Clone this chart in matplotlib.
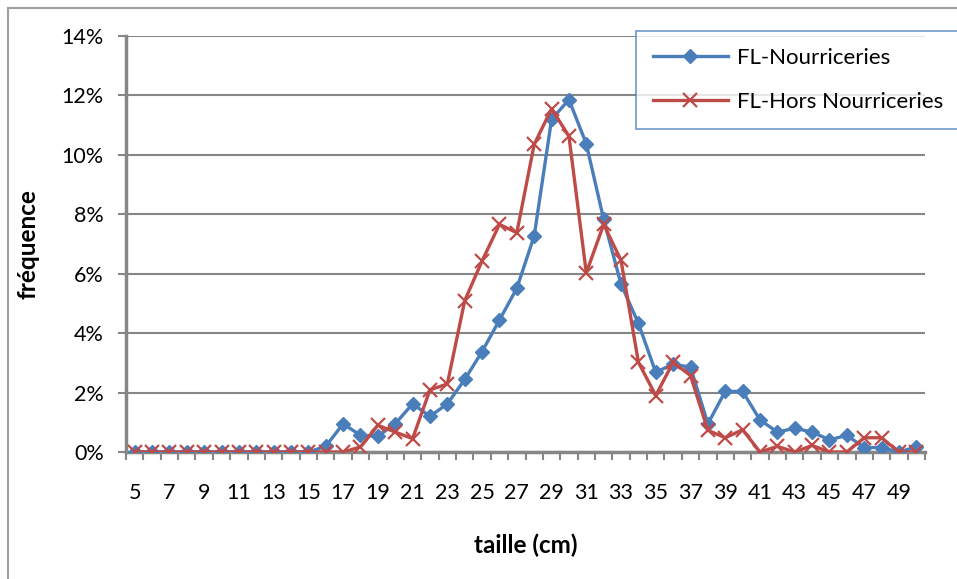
import numpy as np
import matplotlib
matplotlib.use("Agg")
import matplotlib.pyplot as plt
from matplotlib.lines import Line2D

plt.rcParams['font.family'] = ['Lato', 'DejaVu Sans']

# taille (cm)
taille = list(range(5, 51))
# fréquence en %
nourriceries = [0, 0, 0, 0, 0, 0, 0, 0, 0, 0, 0, 0.19, 0.95, 0.56, 0.53, 0.95, 1.62, 1.2, 1.62, 2.44,
                3.38, 4.44, 5.51, 7.27, 11.19, 11.86, 10.37, 7.83, 5.65, 4.33, 2.68, 2.96, 2.85, 0.95,
                2.04, 2.04, 1.08, 0.67, 0.8, 0.67, 0.41, 0.56, 0.15, 0.15, 0, 0.17]
hors_nourriceries = [0, 0, 0, 0, 0, 0, 0, 0, 0, 0, 0, 0, 0, 0.17, 0.9, 0.67, 0.45, 2.09, 2.29, 5.09,
                     6.43, 7.66, 7.38, 10.35, 11.55, 10.63, 6.03, 7.66, 6.45, 3.02, 1.9, 3.02, 2.57, 0.73,
                     0.48, 0.75, 0, 0.19, 0, 0.22, 0, 0, 0.48, 0.48, 0, 0]

blue = '#4A7EBB'
red = '#BE4B48'
grid_c = '#868686'

fig = plt.figure(figsize=(9.57, 5.79), dpi=100)
ax = fig.add_axes([126 / 957, 1 - 452 / 579, (925 - 126) / 957, (452 - 36) / 579])

ax.plot(taille, nourriceries, color=blue, lw=2.4, marker='D', ms=7.5, mec=blue, mfc=blue,
        label='FL-Nourriceries', zorder=3)
ax.plot(taille, hors_nourriceries, color=red, lw=2.4, marker='x', ms=10, mew=1.6,
        label='FL-Hors Nourriceries', zorder=4)

ax.set_xlim(4.5, 50.5)
ax.set_ylim(0, 14)
ax.set_yticks(np.arange(0, 15, 2))
ax.set_yticklabels(['%d%%' % v for v in range(0, 15, 2)], fontsize=15.5)
ax.yaxis.grid(True, color=grid_c, lw=1.5)
ax.set_axisbelow(True)

# étiquettes une sur deux, graduations entre catégories
ax.set_xticks(taille[::2])
ax.set_xticklabels([str(t) for t in taille[::2]], fontsize=15.5)
ax.set_xticks(np.arange(4.5, 51, 1), minor=True)
ax.tick_params(axis='x', which='major', length=0, pad=22)
ax.tick_params(axis='x', which='minor', length=6, width=1.5, color=grid_c, direction='out')
ax.tick_params(axis='y', length=6, width=1.5, color=grid_c, pad=10)

for s in ['top', 'right']:
    ax.spines[s].set_visible(False)
for s in ['left', 'bottom']:
    ax.spines[s].set_color(grid_c)
    ax.spines[s].set_linewidth(2.5)

ax.set_xlabel('taille (cm)', fontsize=17.5, fontweight='bold', labelpad=22)
ax.set_ylabel('fréquence', fontsize=17.5, fontweight='bold', labelpad=16)

leg = fig.legend(loc='upper left', bbox_to_anchor=(636 / 957, 1 - 31 / 579), fontsize=16,
                 frameon=True, fancybox=False, borderaxespad=0, handlelength=3.4,
                 labelspacing=1.1, borderpad=0.75, handletextpad=0.4)
leg.get_frame().set_edgecolor(blue)
leg.get_frame().set_linewidth(1.2)

# cadre extérieur du graphique
fig.add_artist(Line2D([8 / 957, 8 / 957], [0, 1 - 8 / 579], color='#A0A0A0', lw=1.5))
fig.add_artist(Line2D([8 / 957, 1], [1 - 8 / 579, 1 - 8 / 579], color='#A0A0A0', lw=1.5))

fig.savefig('out.png', dpi=100)
